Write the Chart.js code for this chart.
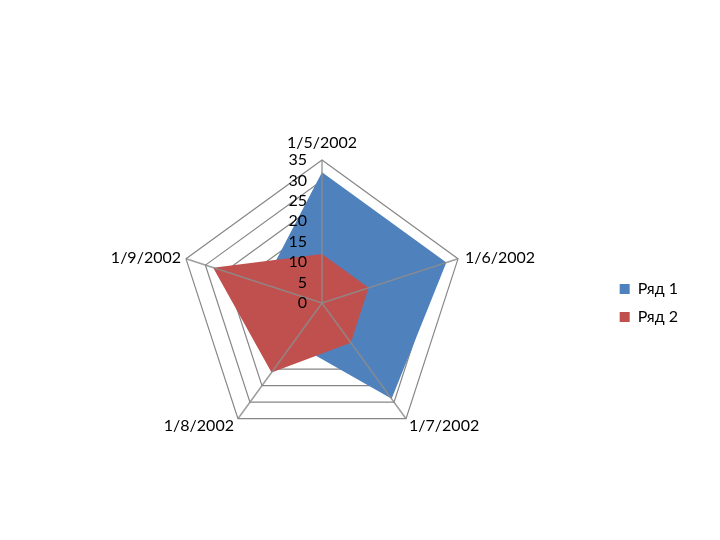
<!DOCTYPE html>
<html>
<head>
<meta charset="utf-8">
<script src="https://cdn.jsdelivr.net/npm/chart.js@4"></script>
<style>
  html, body { margin: 0; padding: 0; background: #fff; }
  #wrap { width: 720px; height: 540px; }
</style>
</head>
<body>
<div id="wrap"><canvas id="myChart"></canvas></div>
<script>
const categories = ["1/5/2002", "1/6/2002", "1/7/2002", "1/8/2002", "1/9/2002"];
const series1 = [32, 32, 29, 12, 15];
const series2 = [12, 12, 12, 21, 28];
const seriesNames = ["Ряд 1", "Ряд 2"];
const tickValues = [0, 5, 10, 15, 20, 25, 30, 35];

const FONT = "Lato";

// where each category label sits relative to its outer vertex: [dx, dy, align]
const labelPlace = [
  [0, -17, "center"],
  [7, -1, "left"],
  [3, 7, "left"],
  [-4, 7, "right"],
  [-5, -1, "right"],
];

// spokes, value labels and category labels go on top of the filled areas
const overlay = {
  id: "overlay",
  afterDatasetsDraw(chart) {
    const r = chart.scales.r;
    const ctx = chart.ctx;
    ctx.save();
    ctx.strokeStyle = "rgba(140,140,140,0.85)";
    ctx.lineWidth = 1.5;
    for (let i = 0; i < categories.length; i++) {
      const p = r.getPointPosition(i, r.drawingArea);
      ctx.beginPath();
      ctx.moveTo(r.xCenter, r.yCenter);
      ctx.lineTo(p.x, p.y);
      ctx.stroke();
    }
    ctx.fillStyle = "#000";
    ctx.font = "16px " + FONT;
    ctx.textBaseline = "middle";
    ctx.textAlign = "right";
    tickValues.forEach((v) => {
      const d = r.getDistanceFromCenterForValue(v);
      ctx.fillText(String(v), r.xCenter - 15, r.yCenter - d);
    });
    categories.forEach((c, i) => {
      const p = r.getPointPosition(i, r.drawingArea);
      const pl = labelPlace[i];
      ctx.textAlign = pl[2];
      ctx.fillText(c, p.x + pl[0], p.y + pl[1]);
    });
    ctx.restore();
  },
};

new Chart(document.getElementById("myChart"), {
  type: "radar",
  data: {
    labels: categories,
    datasets: [
      {
        label: seriesNames[0],
        data: series1,
        backgroundColor: "#4F81BD",
        borderColor: "#4F81BD",
        borderWidth: 0,
        pointRadius: 0,
        fill: true,
        order: 1,
      },
      {
        label: seriesNames[1],
        data: series2,
        backgroundColor: "#C0504D",
        borderColor: "#C0504D",
        borderWidth: 0,
        pointRadius: 0,
        fill: true,
        order: 0,
      },
    ],
  },
  options: {
    responsive: true,
    maintainAspectRatio: false,
    animation: false,
    layout: { padding: { top: 160, bottom: 94, left: 38, right: 32 } },
    plugins: {
      tooltip: { enabled: false },
      legend: {
        position: "right",
        labels: {
          boxWidth: 10,
          boxHeight: 10,
          padding: 12,
          color: "#000",
          font: { family: FONT, size: 16 },
          generateLabels(chart) {
            return chart.data.datasets.map((ds, i) => ({
              text: ds.label,
              fillStyle: ds.backgroundColor,
              strokeStyle: ds.backgroundColor,
              fontColor: "#000",
              lineWidth: 0,
              datasetIndex: i,
            }));
          },
        },
      },
    },
    scales: {
      r: {
        min: 0,
        max: 35,
        ticks: { stepSize: 5, display: false },
        angleLines: { display: false },
        grid: { color: "#868686", lineWidth: 1.2 },
        pointLabels: { display: false },
      },
    },
  },
  plugins: [overlay],
});
</script>
</body>
</html>
